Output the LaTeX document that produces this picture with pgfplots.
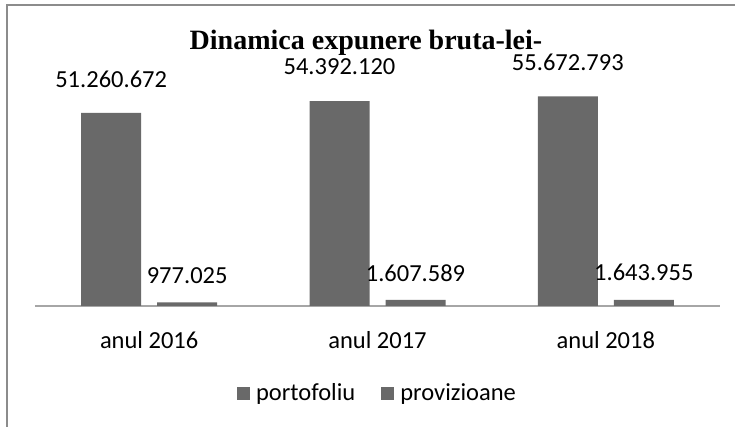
\documentclass[border=0pt]{standalone}
\usepackage{pgfplots}
\usepackage{pgfplotstable}
\pgfplotsset{compat=1.18}
\usepackage{fontspec}
\setmainfont{Carlito}
\newfontfamily\titlefont{Liberation Serif}
\definecolor{barc}{HTML}{696969}
\definecolor{framec}{HTML}{8C8C8C}
\definecolor{axc}{HTML}{A6A6A6}

\pgfplotstableread{
x y label
0 51260672 51.260.672
1 54392120 54.392.120
2 55672793 55.672.793
}\portof
\pgfplotstableread{
x y label
0 977025 977.025
1 1607589 1.607.589
2 1643955 1.643.955
}\proviz

\begin{document}
\begin{tikzpicture}[x=1pt,y=1pt]
\useasboundingbox (0,0) rectangle (735,427);
\draw[framec,line width=1.2pt] (7,0) -- (7,422) -- (735,422);
\node[font=\titlefont\bfseries\fontsize{28}{32}\selectfont] at (366,384) {Dinamica expunere bruta-lei-};
\begin{axis}[at={(35pt,121pt)},anchor=south west,scale only axis,
width=685pt,height=226pt,
xmin=-0.5,xmax=2.5,ymin=0,ymax=60000000,clip=false,
axis x line*=bottom,axis y line=none,
x axis line style={axc,line width=1.5pt,-},
xtick={0,1,2},xticklabels={anul 2016,anul 2017,anul 2018},
major tick length=0pt,
xticklabel style={font=\fontsize{24.5}{28}\selectfont,anchor=center,yshift=-34pt},
ybar=16pt,bar width=60pt,
point meta=explicit symbolic,
nodes near coords,
nodes near coords style={font=\fontsize{24.5}{28}\selectfont,anchor=center},
legend style={at={(0.5,-0.385)},anchor=center,draw=none,legend columns=2,
  font=\fontsize{24.5}{28}\selectfont,
  /tikz/every odd column/.append style={column sep=4pt},
  /tikz/every even column/.append style={column sep=24pt}},
legend image code/.code={\fill[barc] (0pt,-6.5pt) rectangle (13pt,6.5pt);},
]
\addplot[fill=barc,draw=none,every node near coord/.append style={yshift=34pt}]
  table[x=x,y=y,meta=label]{\portof};
\addlegendentry{portofoliu}
\addplot[fill=barc,draw=none,every node near coord/.append style={yshift=27pt}]
  table[x=x,y=y,meta=label]{\proviz};
\addlegendentry{provizioane}
\end{axis}
\end{tikzpicture}
\end{document}
